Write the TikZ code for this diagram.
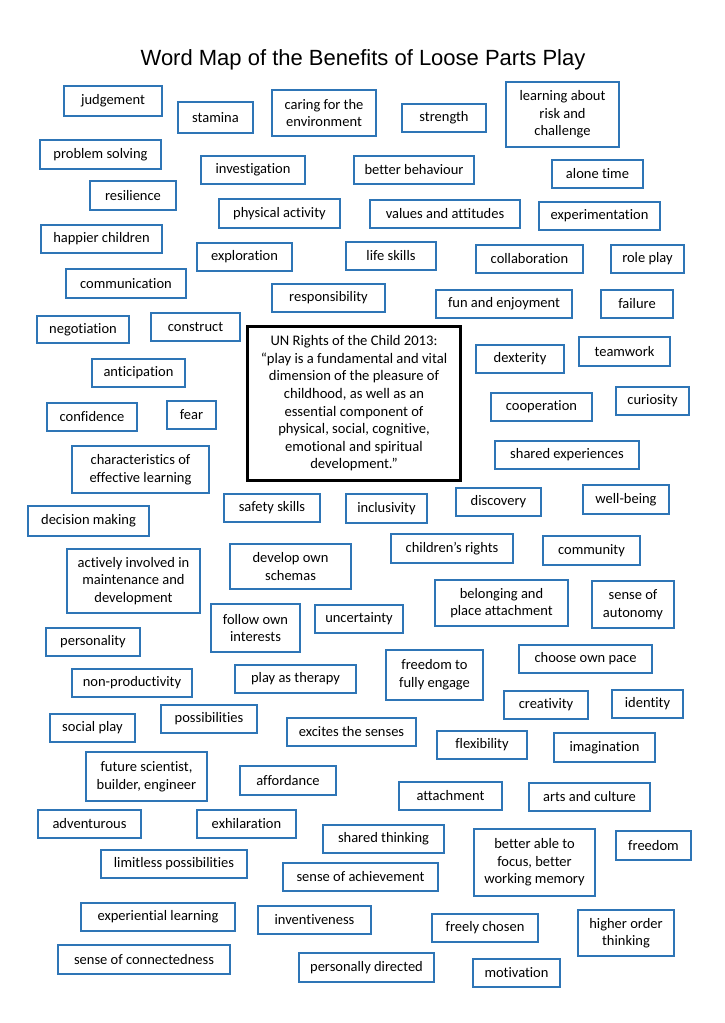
\documentclass[tikz,border=0pt]{standalone}
\usepackage{fontspec}
\setmainfont{Carlito}[Ligatures=NoCommon]
\newfontfamily\titlefont{Liberation Sans}
\definecolor{boxblue}{HTML}{2E75B6}
\tikzset{
  wbox/.style={draw=boxblue, line width=2.2pt, inner sep=0pt, align=center,
    font=\fontsize{14.5}{17.6}\selectfont, text=black},
  unbox/.style={draw=black, line width=3pt, inner sep=0pt, align=center,
    font=\fontsize{14.6}{17.6}\selectfont, text=black},
  titlestyle/.style={font=\titlefont\fontsize{22}{27}\selectfont, anchor=base, inner sep=0pt}
}
\newcommand\wb[6]{\node[wbox, minimum width={#4-#2-2}, minimum height={#5-#3-2}] (#1) at ({(#2+#4)/2},{(#3+#5)/2}) {#6};}
\begin{document}
\begin{tikzpicture}[x=1pt,y=-1pt]
\fill[white] (0,0) rectangle (724,1023);
\useasboundingbox (0,0) rectangle (724,1023);
\node[titlestyle] (title) at (363,65) {Word Map of the Benefits of Loose Parts Play};
\wb{judgement}{63}{85}{163}{117}{judgement}
\wb{stamina}{177}{101}{254}{134}{stamina}
\wb{caring}{271}{89}{377}{137}{caring for the\\environment}
\wb{strength}{401}{103}{487}{133}{strength}
\wb{risk}{505}{81}{620}{148}{learning about\\risk and\\challenge}
\wb{problem}{39}{139}{162}{170}{problem solving}
\wb{investigation}{200}{155}{306}{185}{investigation}
\wb{behaviour}{353}{155}{475}{185}{better behaviour}
\wb{alone}{551}{159}{644}{189}{alone time}
\wb{resilience}{89}{180}{177}{211}{resilience}
\wb{physical}{218}{198}{341}{229}{physical activity}
\wb{values}{369}{199}{521}{229}{values and attitudes}
\wb{experimentation}{538}{201}{661}{231}{experimentation}
\wb{happier}{40}{224}{163}{254}{happier children}
\wb{exploration}{196}{242}{293}{272}{exploration}
\wb{lifeskills}{345}{241}{437}{271}{life skills}
\wb{collaboration}{475}{244}{584}{274}{collaboration}
\wb{roleplay}{610}{244}{685}{274}{role play}
\wb{communication}{65}{268}{187}{299}{communication}
\wb{responsibility}{271}{283}{386}{313}{responsibility}
\wb{fun}{435}{289}{573}{319}{fun and enjoyment}
\wb{failure}{600}{289}{674}{319}{failure}
\wb{negotiation}{36}{315}{130}{344}{negotiation}
\wb{construct}{150}{312}{241}{342}{construct}
\node[unbox, minimum width=213, minimum height=154] (un) at (354,403.5) {UN Rights of the Child 2013:\\“play is a fundamental and vital\\dimension of the pleasure of\\childhood, as well as an\\essential component of\\physical, social, cognitive,\\emotional and spiritual\\development.”};
\wb{dexterity}{475}{344}{565}{374}{dexterity}
\wb{teamwork}{578}{336}{671}{367}{teamwork}
\wb{anticipation}{91}{358}{186}{388}{anticipation}
\wb{cooperation}{490}{392}{593}{422}{cooperation}
\wb{curiosity}{615}{386}{690}{416}{curiosity}
\wb{confidence}{46}{402}{138}{432}{confidence}
\wb{fear}{166}{400}{217}{430}{fear}
\wb{sharedexp}{494}{440}{640}{470}{shared experiences}
\wb{characteristics}{71}{445}{210}{494}{characteristics of\\effective learning}
\wb{safety}{223}{493}{321}{523}{safety skills}
\wb{inclusivity}{345}{493}{428}{524}{inclusivity}
\wb{discovery}{455}{487}{542}{517}{discovery}
\wb{wellbeing}{582}{484}{670}{515}{well-being}
\wb{decision}{27}{505}{150}{537}{decision making}
\wb{rights}{390}{533}{514}{564}{children’s rights}
\wb{community}{542}{535}{641}{566}{community}
\wb{actively}{66}{548}{201}{614}{actively involved in\\maintenance and\\development}
\wb{schemas}{229}{543}{352}{590}{develop own\\schemas}
\wb{belonging}{434}{579}{569}{627}{belonging and\\place attachment}
\wb{autonomy}{591}{580}{675}{629}{sense of\\autonomy}
\wb{follow}{210}{603}{301}{653}{follow own\\interests}
\wb{uncertainty}{314}{604}{404}{634}{uncertainty}
\wb{personality}{45}{627}{141}{657}{personality}
\wb{pace}{518}{644}{653}{674}{choose own pace}
\wb{engage}{385}{649}{484}{701}{freedom to\\fully engage}
\wb{therapy}{234}{664}{357}{694}{play as therapy}
\wb{nonprod}{71}{668}{193}{698}{non-productivity}
\wb{creativity}{503}{690}{589}{720}{creativity}
\wb{identity}{611}{689}{684}{719}{identity}
\wb{possibilities}{160}{704}{258}{734}{possibilities}
\wb{socialplay}{49}{713}{136}{743}{social play}
\wb{senses}{286}{717}{417}{747}{excites the senses}
\wb{flexibility}{436}{730}{528}{760}{flexibility}
\wb{imagination}{553}{732}{656}{763}{imagination}
\wb{scientist}{85}{751}{208}{802}{future scientist,\\builder, engineer}
\wb{affordance}{239}{765}{337}{796}{affordance}
\wb{attachment}{398}{781}{503}{811}{attachment}
\wb{arts}{528}{782}{651}{812}{arts and culture}
\wb{adventurous}{37}{809}{142}{839}{adventurous}
\wb{exhilaration}{196}{809}{297}{839}{exhilaration}
\wb{sharedthink}{322}{824}{445}{854}{shared thinking}
\wb{focus}{473}{828}{596}{897}{better able to\\focus, better\\working memory}
\wb{freedom}{615}{830}{692}{861}{freedom}
\wb{limitless}{100}{849}{248}{879}{limitless possibilities}
\wb{achievement}{282}{862}{439}{892}{sense of achievement}
\wb{experiential}{80}{902}{236}{932}{experiential learning}
\wb{inventiveness}{257}{905}{372}{935}{inventiveness}
\wb{freely}{431}{913}{539}{943}{freely chosen}
\wb{higher}{577}{909}{675}{957}{higher order\\thinking}
\wb{connectedness}{57}{944}{231}{975}{sense of connectedness}
\wb{directed}{298}{952}{435}{983}{personally directed}
\wb{motivation}{472}{958}{561}{988}{motivation}
\end{tikzpicture}
\end{document}
